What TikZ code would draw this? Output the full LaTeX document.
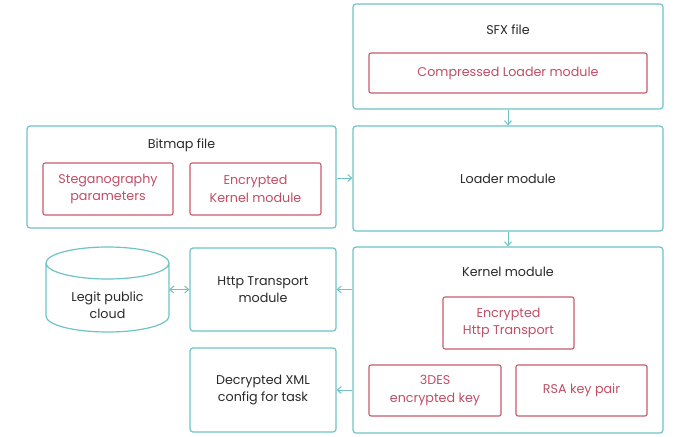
\documentclass[tikz,border=0pt]{standalone}
\usepackage{fontspec}
\setmainfont{Poppins}
\usetikzlibrary{arrows.meta}
\definecolor{teal}{HTML}{6EC3C7}
\definecolor{rose}{HTML}{C85A6A}
\definecolor{rosetext}{HTML}{C04E66}
\definecolor{ink}{HTML}{2A2A2A}
\tikzset{
  outer/.style={draw=teal, line width=1.2pt, rounded corners=3pt, fill=white, inner sep=0pt},
  inner/.style={draw=rose, line width=1.1pt, rounded corners=2pt, inner sep=0pt, text=rosetext, align=center, font=\fontsize{12.7}{17.5}\selectfont},
  lbl/.style={text=ink, align=center, font=\fontsize{12.7}{17.5}\selectfont},
  conn/.style={draw=teal, line width=1pt, -{Straight Barb[length=4pt,width=7pt]}},
  conn2/.style={draw=teal, line width=1pt, {Straight Barb[length=4pt,width=7pt]}-{Straight Barb[length=4pt,width=7pt]}},
}
\begin{document}
\begin{tikzpicture}[x=1pt,y=-1pt]
\useasboundingbox (0,0) rectangle (690,436);
% SFX
\node[outer, minimum width=310pt, minimum height=105pt] (sfx) at (508,56.5) {};
\node[lbl] (sfxl) at (508,30) {SFX file};
\node[inner, minimum width=278pt, minimum height=40pt] (comp) at (508,73) {Compressed Loader module};
% Loader
\node[outer, minimum width=310pt, minimum height=105pt] (loader) at (508,178.5) {};
\node[lbl] (loaderl) at (508,179) {Loader module};
% Kernel
\node[outer, minimum width=310pt, minimum height=186pt] (kernel) at (508,340) {};
\node[lbl] (kernell) at (508,272) {Kernel module};
\node[inner, minimum width=131pt, minimum height=52pt] (ehttp) at (508.5,323) {Encrypted\\Http Transport};
\node[inner, minimum width=132pt, minimum height=51pt] (des) at (435,390.5) {3DES\\encrypted key};
\node[inner, minimum width=131pt, minimum height=51pt] (rsa) at (581.5,390.5) {RSA key pair};
% Bitmap
\node[outer, minimum width=309pt, minimum height=102pt] (bmp) at (181.5,177) {};
\node[lbl] (bmpl) at (181.5,145) {Bitmap file};
\node[inner, minimum width=130pt, minimum height=52pt] (steg) at (108,189) {Steganography\\parameters};
\node[inner, minimum width=131pt, minimum height=52pt] (ekern) at (255.5,189) {Encrypted\\Kernel module};
% Http transport & XML
\node[outer, lbl, minimum width=146pt, minimum height=83pt] (http) at (263,289.5) {Http Transport\\module};
\node[outer, lbl, minimum width=146pt, minimum height=84pt] (xml) at (263,390) {Decrypted XML\\config for task};
% Cylinder
\draw[teal, line width=1.2pt, fill=white] (46,263) -- (46,316) arc[start angle=180, end angle=360, x radius=61.5, y radius=-16] -- (169,263) arc[start angle=0, end angle=360, x radius=61.5, y radius=-16];
\node[lbl, minimum width=123pt, minimum height=85pt] (cloud) at (107.5,289.5) {};
\node[lbl] (cloudl) at (107.5,305) {Legit public\\cloud};
% connectors
\draw[conn] (sfx.south) -- (loader.north);
\draw[conn] (loader.south) -- (kernel.north);
\draw[conn] (bmp.east |- 0,178) -- (loader.west |- 0,178);
\draw[conn] (kernel.west |- http.east) -- (http.east);
\draw[conn] (kernel.west |- xml.east) -- (xml.east);
\draw[conn2] (cloud.east) -- (http.west);
\end{tikzpicture}
\end{document}
